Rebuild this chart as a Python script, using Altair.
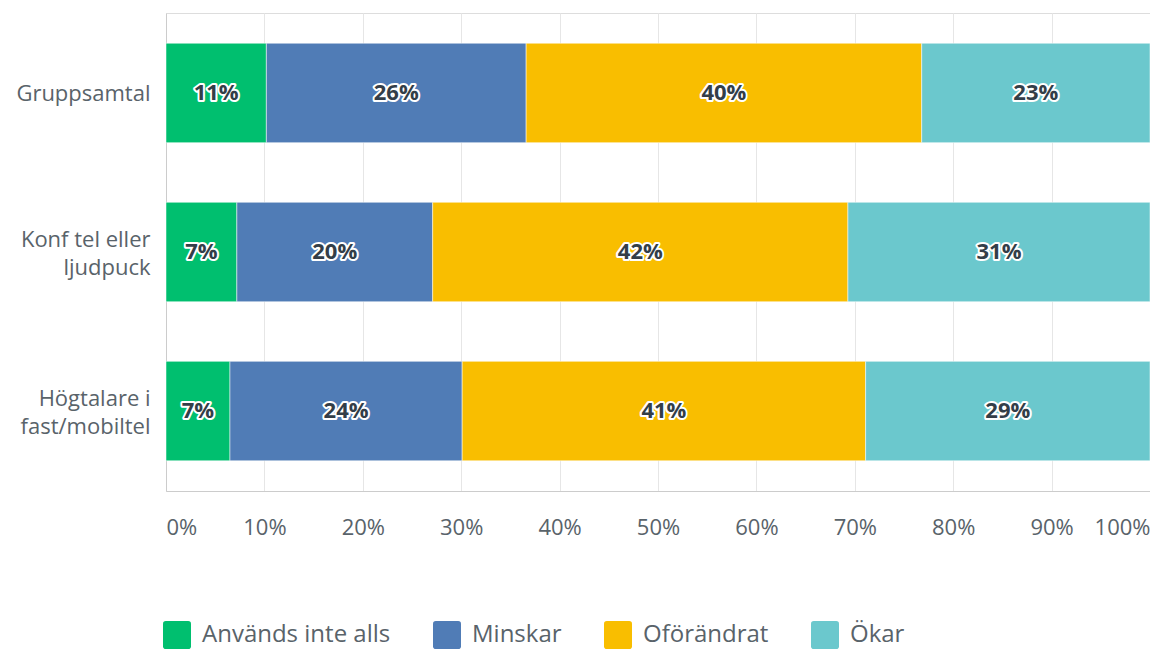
import altair as alt
import pandas as pd

categories = ["Gruppsamtal", "Konf tel eller|ljudpuck", "Högtalare i|fast/mobiltel"]
series = ["Används inte alls", "Minskar", "Oförändrat", "Ökar"]
colors = ["#00BF6F", "#507CB6", "#F9BE00", "#6BC8CD"]

# bar widths (percent)
vals_grupp = [10.2, 26.4, 40.2, 23.2]
vals_konf = [7.2, 19.9, 42.2, 30.7]
vals_hogt = [6.5, 23.6, 41.0, 28.9]

# printed labels
labels_grupp = ["11%", "26%", "40%", "23%"]
labels_konf = ["7%", "20%", "42%", "31%"]
labels_hogt = ["7%", "24%", "41%", "29%"]

x_ticks = [0, 10, 20, 30, 40, 50, 60, 70, 80, 90, 100]

rows = []
for cat, vals, labs in zip(categories,
                           [vals_grupp, vals_konf, vals_hogt],
                           [labels_grupp, labels_konf, labels_hogt]):
    for i, (s, v, l) in enumerate(zip(series, vals, labs)):
        rows.append({"cat": cat, "series": s, "order": i, "value": v, "label": l})
df = pd.DataFrame(rows)

FONT = "Open Sans"
AXIS_COLOR = "#59636a"
TEXT_COLOR = "#333e48"

base = alt.Chart(df).transform_stack(
    stack="value", groupby=["cat"], as_=["x0", "x1"],
    sort=[alt.SortField("order", order="ascending")]
).transform_calculate(mid="(datum.x0 + datum.x1) / 2")

y_enc = alt.Y(
    "cat:N", sort=categories, title=None,
    scale=alt.Scale(paddingInner=0.375, paddingOuter=0.19),
    axis=alt.Axis(
        labelExpr="split(datum.label, '|')", ticks=False, labelPadding=16,
        labelFontSize=22, labelColor=AXIS_COLOR, labelFont=FONT,
        labelLineHeight=28, domain=True, domainColor="#cccccc", grid=False,
        labelOffset={"condition": {"test": "indexof(datum.value, '|') >= 0", "value": -12}, "value": 1},
    ),
)

x_scale = alt.Scale(domain=[0, 100], nice=False)

bars = base.mark_bar(stroke="white", strokeWidth=1, strokeOpacity=0.5).encode(
    x=alt.X(
        "x0:Q", scale=x_scale, title=None,
        axis=alt.Axis(
            values=x_ticks, labelExpr="datum.value + '%'", labelFlush=True,
            ticks=False, labelPadding=26, labelFontSize=22, labelColor=AXIS_COLOR,
            labelFont=FONT, domainColor="#cccccc", grid=True, gridColor="#e6e6e6",
        ),
    ),
    x2="x1:Q",
    y=y_enc,
    color=alt.Color(
        "series:N",
        scale=alt.Scale(domain=series, range=colors),
        sort=series,
        title=None,
        legend=alt.Legend(
            orient="none", legendX=-3, legendY=608, direction="horizontal",
            symbolType="M-0.8,-1H0.8Q1,-1 1,-0.8V0.8Q1,1 0.8,1H-0.8Q-1,1 -1,0.8V-0.8Q-1,-1 -0.8,-1Z",
            symbolSize=784, symbolStrokeWidth=0, symbolOpacity=1,
            labelFontSize=24, labelColor=AXIS_COLOR, labelFont=FONT,
            labelOffset=11, columnPadding=42, labelLimit=400,
        ),
    ),
    order=alt.Order("order:Q"),
)

halo = base.mark_text(
    font=FONT, fontSize=22, fontWeight="bold", color="white",
    stroke="white", strokeWidth=4, strokeJoin="round",
).encode(x=alt.X("mid:Q", scale=x_scale), y=alt.Y("cat:N", sort=categories), text="label:N")

texts = base.mark_text(
    font=FONT, fontSize=22, fontWeight="bold", color=TEXT_COLOR,
).encode(x=alt.X("mid:Q", scale=x_scale), y=alt.Y("cat:N", sort=categories), text="label:N")

chart = alt.layer(bars, halo, texts).properties(
    width=984, height=478,
    autosize=alt.AutoSizeParams(type="none"),
    padding={"left": 158, "top": 5, "right": 0, "bottom": 159},
).configure_view(stroke=None).configure(background="white")

chart.save("out.html", embed_options={"renderer": "svg", "actions": False})
